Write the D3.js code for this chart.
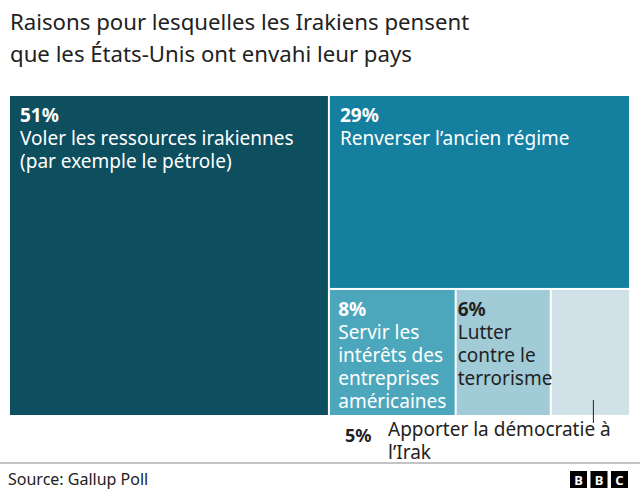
<!DOCTYPE html>
<meta charset="utf-8">
<head>
    <title>Raisons pour lesquelles les Irakiens pensent</title>
    <script type="text/javascript" src="https://cdn.jsdelivr.net/npm/d3@7"></script>
    <style>
        body { margin: 0; background: #fff; }
        text { font-family: "Noto Sans", sans-serif; }
    </style>
</head>
<body>
    <div id="chart"></div>
    <script>
        // data
        var values = [51, 29, 8, 6, 5]
        var pctLabels = ["51%", "29%", "8%", "6%", "5%"]
        var reasons = [
            ["Voler les ressources irakiennes", "(par exemple le pétrole)"],
            ["Renverser l’ancien régime"],
            ["Servir les", "intérêts des", "entreprises", "américaines"],
            ["Lutter", "contre le", "terrorisme"],
            ["Apporter la démocratie à", "l’Irak"]
        ]
        var colors = ["#0d4e5f", "#157f9f", "#4da7bc", "#a1cbd7", "#d0e2e7"]
        var textColors = ["#fff", "#fff", "#fff", "#222", "#222"]

        var width = 640, height = 493
        var box = {x: 10, y: 96, w: 619, h: 319}

        var svg = d3.select("#chart").append("svg")
          .attr("width", width)
          .attr("height", height)

        // title
        var title = svg.append("text")
          .attr("x", 10).attr("y", 30)
          .attr("font-size", "22.2px")
          .attr("fill", "#222")
        title.append("tspan").attr("x", 10).attr("dy", 0).text("Raisons pour lesquelles les Irakiens pensent")
        title.append("tspan").attr("x", 10).attr("dy", 32).text("que les États-Unis ont envahi leur pays")

        // treemap
        var root = d3.hierarchy({children: values.map(function(v, i){ return {i: i, value: v} })})
          .sum(function(d){ return d.value || 0 })

        d3.treemap()
          .size([box.w, box.h])
          .paddingInner(2)
          .tile(d3.treemapSquarify.ratio(1))(root)

        var g = svg.append("g").attr("transform", "translate(" + box.x + "," + box.y + ")")

        var cells = g.selectAll("g.cell")
          .data(root.leaves())
          .enter().append("g")
            .attr("class", "cell")
            .attr("transform", function(d){ return "translate(" + d.x0 + "," + d.y0 + ")" })

        cells.append("rect")
          .attr("width", function(d){ return d.x1 - d.x0 })
          .attr("height", function(d){ return d.y1 - d.y0 })
          .attr("fill", function(d){ return colors[d.data.i] })

        var lineH = 23
        var smallest = values.indexOf(d3.min(values))

        // labels inside the boxes
        cells.filter(function(d){ return d.data.i !== smallest }).each(function(d){
            var cell = d3.select(this)
            var i = d.data.i
            var t = cell.append("text")
              .attr("font-size", "19px")
              .attr("fill", textColors[i])
            t.append("tspan").attr("font-weight", "bold").attr("y", 26).text(pctLabels[i])
            reasons[i].forEach(function(line, k){
                t.append("tspan").attr("y", 26 + lineH * (k + 1)).text(line)
            })
            // shrink side padding when the longest line barely fits
            var maxW = 0
            t.selectAll("tspan").each(function(){ maxW = Math.max(maxW, this.getComputedTextLength()) })
            var pad = Math.min(10, Math.max(1, (d.x1 - d.x0 - maxW) / 2))
            t.selectAll("tspan").attr("x", pad)
        })

        // label for the smallest box goes underneath, with a leader line
        var s = root.leaves().find(function(d){ return d.data.i === smallest })
        var lx = box.x + (s.x0 + s.x1) / 2 + 3
        svg.append("line")
          .attr("x1", lx).attr("x2", lx)
          .attr("y1", box.y + s.y1 - 15).attr("y2", box.y + s.y1 + 8)
          .attr("stroke", "#222").attr("stroke-width", 1)

        svg.append("text")
          .attr("x", 345).attr("y", 442)
          .attr("font-size", "18px").attr("font-weight", "bold").attr("fill", "#222")
          .text(pctLabels[smallest])
        var ext = svg.append("text")
          .attr("font-size", "19px").attr("fill", "#222")
        reasons[smallest].forEach(function(line, k){
            ext.append("tspan").attr("x", 388).attr("y", 436 + lineH * k).text(line)
        })

        // footer
        svg.append("line")
          .attr("x1", 0).attr("x2", width)
          .attr("y1", 463).attr("y2", 463)
          .attr("stroke", "#888").attr("stroke-width", 1)

        svg.append("text")
          .attr("x", 8).attr("y", 485)
          .attr("font-size", "16px").attr("fill", "#222")
          .text("Source: Gallup Poll")

        var logo = svg.append("g").attr("transform", "translate(570,471)")
        ;["B", "B", "C"].forEach(function(c, k){
            logo.append("rect")
              .attr("x", k * 20.5).attr("y", 0)
              .attr("width", 17).attr("height", 17)
              .attr("fill", "#000")
            logo.append("text")
              .attr("x", k * 20.5 + 8.5).attr("y", 14)
              .attr("text-anchor", "middle")
              .attr("font-size", "13px").attr("font-weight", "bold")
              .attr("fill", "#fff")
              .text(c)
        })
    </script>
</body>
</html>
